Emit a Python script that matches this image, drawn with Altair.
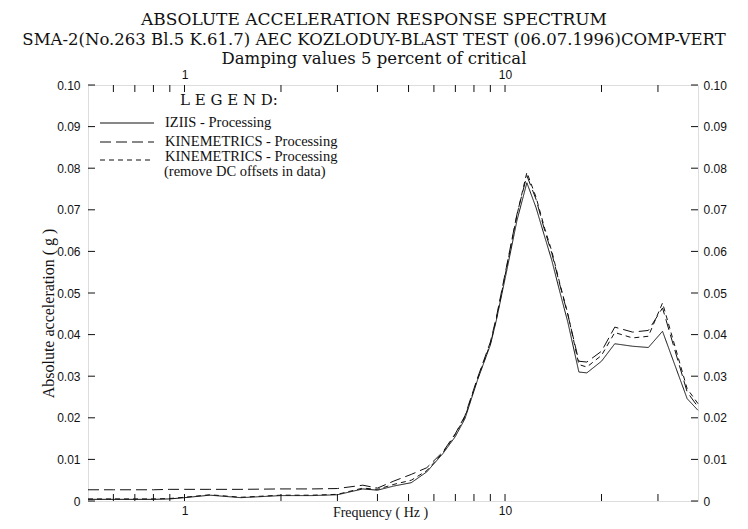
import altair as alt
import pandas as pd

# ---------------- data ----------------
freq = [0.5, 0.6, 0.7, 0.8, 0.9, 1.0, 1.2, 1.5, 2.0, 2.5, 3.0, 3.6, 4.0, 4.5, 5.1, 5.7,
        6.4, 7.0, 7.5, 8.2, 9.0, 9.4, 10.1, 10.9, 11.7, 12.5, 13.3, 14.0, 14.8, 15.7,
        17.0, 18.0, 20.0, 22.0, 25.0, 28.0, 31.0, 37.0, 40.0]

iziis = [0.0004, 0.0004, 0.0004, 0.0004, 0.0005, 0.0008, 0.0014, 0.0008, 0.0013, 0.0013,
         0.0015, 0.0029, 0.0026, 0.0036, 0.0044, 0.0070, 0.0114, 0.0155, 0.0198, 0.0290,
         0.0375, 0.0435, 0.0550, 0.0675, 0.0765, 0.0705, 0.0635, 0.0578, 0.0505, 0.0430,
         0.0310, 0.0308, 0.0336, 0.0378, 0.0372, 0.0369, 0.0408, 0.0246, 0.0218]

kinemetrics = [0.0027, 0.0027, 0.0027, 0.0027, 0.0028, 0.0028, 0.0028, 0.0028, 0.0029, 0.0029,
               0.0030, 0.0038, 0.0031, 0.0048, 0.0064, 0.0080, 0.0118, 0.0162, 0.0205, 0.0295,
               0.0382, 0.0442, 0.0562, 0.0690, 0.0782, 0.0725, 0.0650, 0.0595, 0.0522, 0.0448,
               0.0336, 0.0334, 0.0360, 0.0418, 0.0406, 0.0410, 0.0464, 0.0262, 0.0226]

kinemetrics_dc = [0.0005, 0.0005, 0.0005, 0.0005, 0.0006, 0.0009, 0.0015, 0.0009, 0.0014, 0.0014,
                  0.0016, 0.0031, 0.0028, 0.0040, 0.0050, 0.0073, 0.0116, 0.0160, 0.0202, 0.0292,
                  0.0378, 0.0438, 0.0558, 0.0688, 0.0790, 0.0730, 0.0655, 0.0600, 0.0525, 0.0450,
                  0.0328, 0.0322, 0.0350, 0.0405, 0.0392, 0.0396, 0.0476, 0.0270, 0.0234]

series_names = ["IZIIS - Processing",
                "KINEMETRICS - Processing",
                "KINEMETRICS - Processing (remove DC offsets in data)"]
legend_labels = ["IZIIS - Processing", "KINEMETRICS - Processing", "KINEMETRICS - Processing"]
legend_notes = ["", "", "(remove DC offsets in data)"]

x_minor_ticks = [0.6, 0.7, 0.8, 0.9, 1, 2, 3, 4, 5, 6, 7, 8, 9, 10, 20, 30]
x_labels = [1, 10]
y_ticks = [0, 0.01, 0.02, 0.03, 0.04, 0.05, 0.06, 0.07, 0.08, 0.09, 0.10]

title_1 = "ABSOLUTE ACCELERATION RESPONSE SPECTRUM"
title_2 = "SMA-2(No.263 Bl.5 K.61.7) AEC KOZLODUY-BLAST TEST (06.07.1996)COMP-VERT"
title_3 = "Damping values 5 percent of critical"

# ---------------- styling ----------------
W, H = 610, 416
INK = "#111111"
SERIF = "Liberation Serif"
WIDE_SERIF = "DejaVu Serif"
SANS = "Liberation Sans"
TICK = 7
dash_styles = [[1, 0], [11, 5], [5, 4]]

xscale = alt.Scale(type="log", domain=[0.5, 40], nice=False)
yscale = alt.Scale(domain=[0, 0.1], nice=False, zero=True)

rows = []
for name, vals in zip(series_names, [iziis, kinemetrics, kinemetrics_dc]):
    for f, v in zip(freq, vals):
        rows.append({"series": name, "freq": f, "acc": v})
df = pd.DataFrame(rows)

ylab = "datum.value == 0 ? '0' : format(datum.value, '.2f')"

lines = alt.Chart(df).mark_line(color=INK, strokeWidth=1).encode(
    x=alt.X("freq:Q", scale=xscale,
            axis=alt.Axis(orient="bottom", values=x_labels, ticks=False, tickSize=0, domain=False,
                          grid=False, labelPadding=4, labelFont=SANS, labelFontSize=12,
                          labelColor=INK, labelExpr="datum.label",
                          title="Frequency ( Hz )", titleFont=SERIF, titleFontSize=14,
                          titleFontWeight="normal", titleColor=INK, titleX=292, titleY=15,
                          titleAlign="center", titleBaseline="alphabetic")),
    y=alt.Y("acc:Q", scale=yscale,
            axis=alt.Axis(orient="left", values=y_ticks, ticks=False, tickSize=0, domain=False,
                          grid=False, labelPadding=8, labelFont=SANS, labelFontSize=12,
                          labelColor=INK, labelExpr=ylab,
                          title="Absolute acceleration ( g )", titleFont=SERIF, titleFontSize=16,
                          titleFontWeight="normal", titleColor=INK, titleX=-35, titleY=228,
                          titleAngle=270, titleAlign="center", titleBaseline="alphabetic")),
    strokeDash=alt.StrokeDash("series:N",
                              scale=alt.Scale(domain=series_names, range=dash_styles),
                              legend=None),
)

xt = pd.DataFrame({"t": x_minor_ticks})
yt = pd.DataFrame({"v": y_ticks})

top_ticks = alt.Chart(xt).mark_rule(color=INK, strokeWidth=1).encode(
    x=alt.X("t:Q", scale=xscale,
            axis=alt.Axis(orient="top", values=x_labels, ticks=False, tickSize=0, domain=False,
                          grid=False, labelPadding=4, labelFont=SANS, labelFontSize=12,
                          labelColor=INK, labelExpr="datum.label", title=None)),
    y=alt.value(0), y2=alt.value(TICK),
)
bottom_ticks = alt.Chart(xt).mark_rule(color=INK, strokeWidth=1).encode(
    x=alt.X("t:Q", scale=xscale, axis=None),
    y=alt.value(H), y2=alt.value(H - TICK),
)
left_ticks = alt.Chart(yt).mark_rule(color=INK, strokeWidth=1).encode(
    y=alt.Y("v:Q", scale=yscale, axis=None),
    x=alt.value(0), x2=alt.value(TICK),
)
right_ticks = alt.Chart(yt).mark_rule(color=INK, strokeWidth=1).encode(
    y=alt.Y("v:Q", scale=yscale,
            axis=alt.Axis(orient="right", values=y_ticks, ticks=False, tickSize=0, domain=False,
                          grid=False, labelPadding=5, labelFont=SANS, labelFontSize=12,
                          labelColor=INK, labelExpr=ylab, title=None)),
    x=alt.value(W - TICK), x2=alt.value(W),
)

# ---------------- legend drawn inside the plot ----------------
one = pd.DataFrame({"k": [0]})
legend_layers = [
    alt.Chart(one).mark_text(font=WIDE_SERIF, fontSize=15, color=INK, align="left",
                             baseline="alphabetic").encode(
        x=alt.value(92), y=alt.value(20), text=alt.value("L E G E N D:"))
]
row_y = [38, 57, 75]
text_dy = [4, 4, 1]
for i, (lab, note, dash) in enumerate(zip(legend_labels, legend_notes, dash_styles)):
    legend_layers.append(
        alt.Chart(one).mark_rule(color=INK, strokeWidth=1, strokeDash=dash).encode(
            x=alt.value(12), x2=alt.value(66), y=alt.value(row_y[i])))
    legend_layers.append(
        alt.Chart(one).mark_text(font=SERIF, fontSize=14.5, color=INK, align="left",
                                 baseline="alphabetic").encode(
            x=alt.value(77), y=alt.value(row_y[i] + text_dy[i]), text=alt.value(lab)))
    if note:
        legend_layers.append(
            alt.Chart(one).mark_text(font=SERIF, fontSize=14.5, color=INK, align="left",
                                     baseline="alphabetic").encode(
                x=alt.value(76), y=alt.value(row_y[i] + text_dy[i] + 15), text=alt.value(note)))

chart = alt.layer(
    lines, top_ticks, bottom_ticks, left_ticks, right_ticks, *legend_layers
).resolve_axis(
    x="independent", y="independent"
).properties(
    width=W, height=H,
    autosize=alt.AutoSizeParams(type="none"),
    padding={"left": 80, "top": 77, "right": 42, "bottom": 19},
    title=alt.TitleParams(
        text=title_1, subtitle=[title_2, title_3],
        anchor="middle", frame="group", dx=-19,
        font=WIDE_SERIF, fontSize=17, fontWeight="normal", color=INK,
        subtitleFont=WIDE_SERIF, subtitleFontSize=16.5, subtitleColor=INK,
        subtitlePadding=3, subtitleLineHeight=19, offset=0,
    ),
).configure_view(
    stroke=INK, strokeWidth=1
).configure(background="white")

chart.save("out.html", embed_options={"renderer": "svg", "actions": False})
